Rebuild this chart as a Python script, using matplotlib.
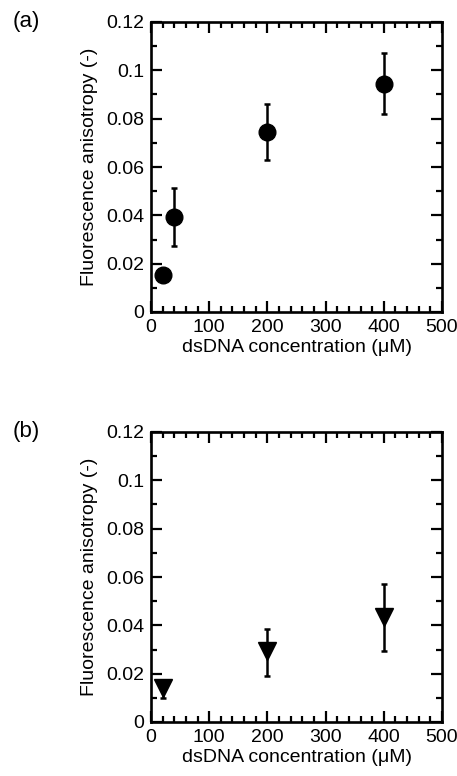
import matplotlib
matplotlib.use("Agg")
import matplotlib.pyplot as plt
from matplotlib.ticker import MultipleLocator

plt.rcParams['font.family'] = ['Liberation Sans', 'DejaVu Sans']

# Panel (a)
xa = [20, 40, 200, 400]
ya = [0.0152, 0.0392, 0.0745, 0.0945]
ea = [0.0, 0.012, 0.0117, 0.0127]

# Panel (b)
xb = [20, 200, 400]
yb = [0.0140, 0.0292, 0.0433]
eb_lo = [0.0041, 0.0101, 0.0141]
eb_hi = [0.0028, 0.0093, 0.0138]

xticks = [0, 100, 200, 300, 400, 500]
yticks = [0, 0.02, 0.04, 0.06, 0.08, 0.1, 0.12]
ytick_labels = ['0', '0.02', '0.04', '0.06', '0.08', '0.1', '0.12']

W, H = 457, 776
fig = plt.figure(figsize=(W / 100, H / 100), dpi=100)

def make_ax(top, bottom):
    left, right = 151, 442
    return fig.add_axes([left / W, 1 - bottom / H, (right - left) / W, (bottom - top) / H])

def style(ax):
    ax.set_xlim(0, 500)
    ax.set_ylim(0, 0.12)
    ax.set_xticks(xticks)
    ax.set_xticklabels([str(t) for t in xticks])
    ax.set_yticks(yticks)
    ax.set_yticklabels(ytick_labels)
    ax.xaxis.set_minor_locator(MultipleLocator(20))
    ax.yaxis.set_minor_locator(MultipleLocator(0.01))
    ax.tick_params(which='both', direction='in', top=True, right=True, width=1.6,
                   labelsize=14, pad=5)
    ax.tick_params(which='major', length=8)
    ax.tick_params(which='minor', length=4)
    for s in ax.spines.values():
        s.set_linewidth(1.9)
    ax.set_xlabel('dsDNA concentration (\u03bcM)', fontsize=14, labelpad=2)
    ax.set_ylabel('Fluorescence anisotropy (-)', fontsize=14, labelpad=6)

ax1 = make_ax(22, 312)
ax1.errorbar(xa, ya, yerr=ea, fmt='o', color='black', markersize=12,
             elinewidth=1.8, capsize=2.5, capthick=1.8, clip_on=False, zorder=3)
style(ax1)
fig.text(13 / W, 1 - 22 / H, '(a)', fontsize=16, va='center', ha='left')

ax2 = make_ax(432, 722)
ax2.errorbar(xb, yb, yerr=[eb_lo, eb_hi], fmt='v', color='black', markersize=13,
             elinewidth=1.8, capsize=2.5, capthick=1.8, clip_on=False, zorder=3)
style(ax2)
fig.text(13 / W, 1 - 432 / H, '(b)', fontsize=16, va='center', ha='left')

fig.savefig('out.png', dpi=100)
